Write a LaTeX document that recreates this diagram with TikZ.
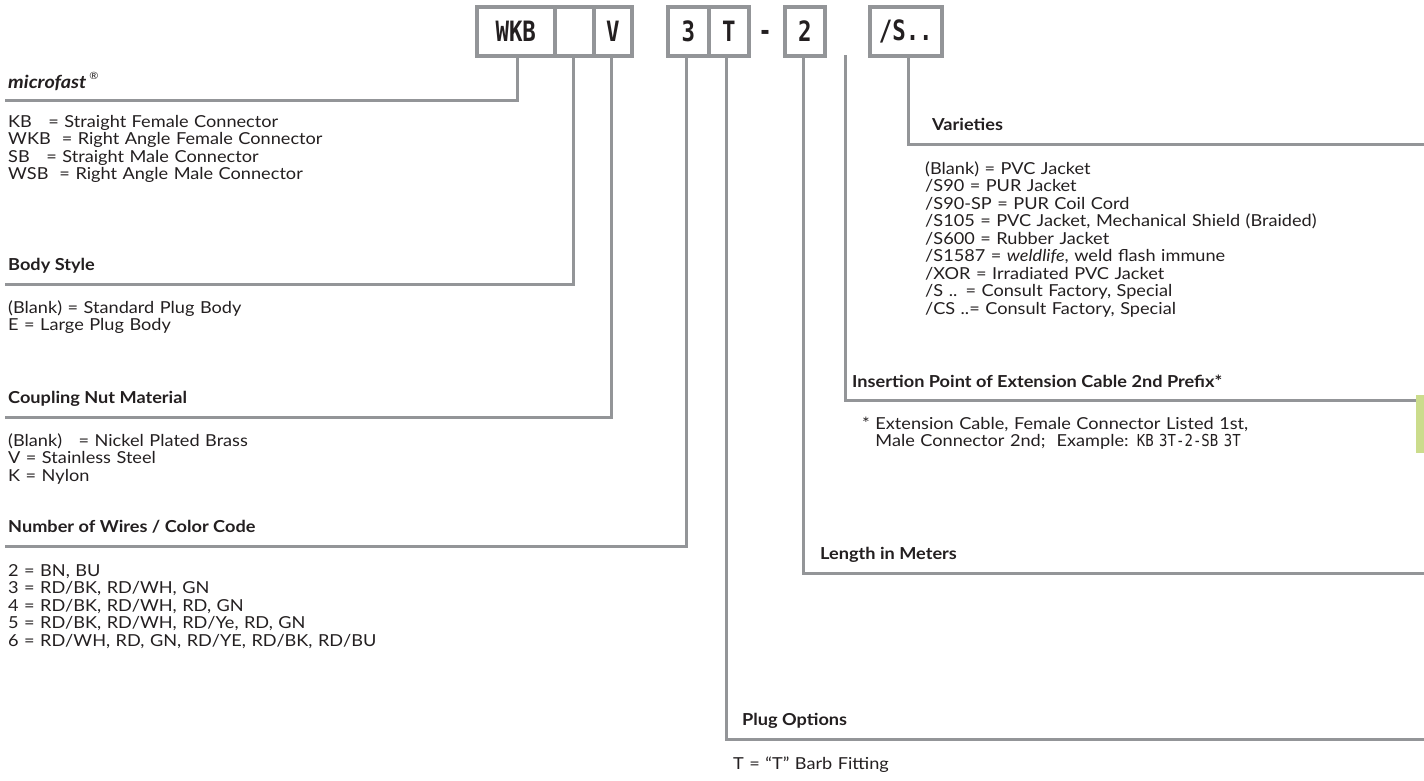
\documentclass[tikz,border=0pt]{standalone}
\usepackage{fontspec}
\setmainfont[FakeStretch=1.1]{Lato}
\newfontfamily\boxfont[FakeStretch=0.8]{DejaVu Sans Mono}
\newfontfamily\exfont[FakeStretch=0.85]{DejaVu Sans Mono}
\definecolor{lgray}{HTML}{939598}
\definecolor{txt}{HTML}{231F20}
\definecolor{lgreen}{HTML}{CBDC8C}
\begin{document}
\begin{tikzpicture}[x=1pt,y=-1pt,
  conn/.style={draw=lgray, line width=3pt, line join=miter},
  cell/.style={draw=lgray, line width=3.5pt, minimum height=49pt, inner sep=0pt, anchor=north west, text=txt, font=\boxfont\bfseries\fontsize{28}{28}\selectfont},
  head/.style={anchor=base west, inner sep=0pt, text=txt, font=\bfseries\fontsize{16.5}{17.5}\selectfont},
  body/.style={anchor=base west, inner sep=0pt, text=txt, align=left, text width=560pt, font=\fontsize{16.5}{17.5}\selectfont}]
\useasboundingbox (0,0) rectangle (1424,780);
% code boxes
\node[cell, minimum width=78pt] (b1) at (475,5) {WKB};
\node[cell, minimum width=39pt] (b2) at (553,5) {};
\node[cell, minimum width=38pt] (b3) at (592,5) {V};
\node[cell, minimum width=41pt] (b4) at (666,5) {3};
\node[cell, minimum width=40pt] (b5) at (707,5) {T};
\node[anchor=base, inner sep=0pt, text=txt, font=\boxfont\bfseries\fontsize{28}{28}\selectfont] (dash) at (765,40) {-};
\node[cell, minimum width=40pt] (b6) at (783,5) {2};
\node[cell, minimum width=72pt] (b7) at (868,5) {/S..};
% corner coordinates
\coordinate (c1) at (517,100); \coordinate (e1) at (5,100);
\coordinate (c2) at (573,284); \coordinate (e2) at (5,284);
\coordinate (c3) at (611,417); \coordinate (e3) at (5,417);
\coordinate (c4) at (686,546); \coordinate (e4) at (5,546);
\coordinate (c5) at (726,739); \coordinate (e5) at (1424,739);
\coordinate (c6) at (803,573); \coordinate (e6) at (1424,573);
\coordinate (t0) at (845,55);
\coordinate (c7) at (845,400); \coordinate (e7) at (1417,400);
\coordinate (c8) at (908,144); \coordinate (e8) at (1424,144);
% connectors
\draw[conn] (b1.south -| c1) -- (c1) -- (e1);
\draw[conn] (b2.south -| c2) -- (c2) -- (e2);
\draw[conn] (b3.south -| c3) -- (c3) -- (e3);
\draw[conn] (b4.south -| c4) -- (c4) -- (e4);
\draw[conn] (b5.south -| c5) -- (c5) -- (e5);
\draw[conn] (b6.south -| c6) -- (c6) -- (e6);
\draw[conn] (t0) -- (c7) -- (e7);
\draw[conn] (b7.south -| c8) -- (c8) -- (e8);
% green tab
\fill[lgreen] (1416,395) rectangle (1424,453);
% left sections
\node[head] (h1) at (8,88) {\fontsize{18}{18}\selectfont\itshape microfast\,\raisebox{0.5em}{\fontsize{10}{10}\selectfont\normalfont\textregistered}};
\node[body] (t1) at (8,127) {KB\ \ \ = Straight Female Connector\\WKB\ \ = Right Angle Female Connector\\SB\ \ \ = Straight Male Connector\\WSB\ \ = Right Angle Male Connector};
\node[head] (h2) at (8,270) {Body Style};
\node[body] (t2) at (8,313) {(Blank) = Standard Plug Body\\E = Large Plug Body};
\node[head] (h3) at (8,403) {Coupling Nut Material};
\node[body] (t3) at (8,446) {(Blank)\ \ \ = Nickel Plated Brass\\V = Stainless Steel\\K = Nylon};
\node[head] (h4) at (8,532) {Number of Wires / Color Code};
\node[body] (t4) at (8,576) {2\ = BN, BU\\3\ = RD/BK, RD/WH, GN\\4\ = RD/BK, RD/WH, RD, GN\\5\ = RD/BK, RD/WH, RD/Ye, RD, GN\\6\ = RD/WH, RD, GN, RD/YE, RD/BK, RD/BU};
% right sections
\node[head] (h5) at (932,130) {Varieties};
\node[body] (t5) at (925,174) {(Blank) = PVC Jacket\\/S90 = PUR Jacket\\/S90-SP = PUR Coil Cord\\/S105 = PVC Jacket, Mechanical Shield (Braided)\\/S600 = Rubber Jacket\\/S1587 = \textit{weldlife}, weld flash immune\\/XOR = Irradiated PVC Jacket\\/S .. = Consult Factory, Special\\/CS ..= Consult Factory, Special};
\node[head] (h6) at (852,387) {Insertion Point of Extension Cable 2nd Prefix*};
\node[body] (t6) at (862,429) {* Extension Cable, Female Connector Listed 1st,\\\hphantom{* }Male Connector 2nd;\ \ Example: {\exfont KB 3T-2-SB 3T}};
\node[head] (h7) at (820,559) {Length in Meters};
\node[head] (h8) at (742,725) {Plug Options};
\node[body] (t8) at (733,769) {T = “T” Barb Fitting};
\end{tikzpicture}
\end{document}
